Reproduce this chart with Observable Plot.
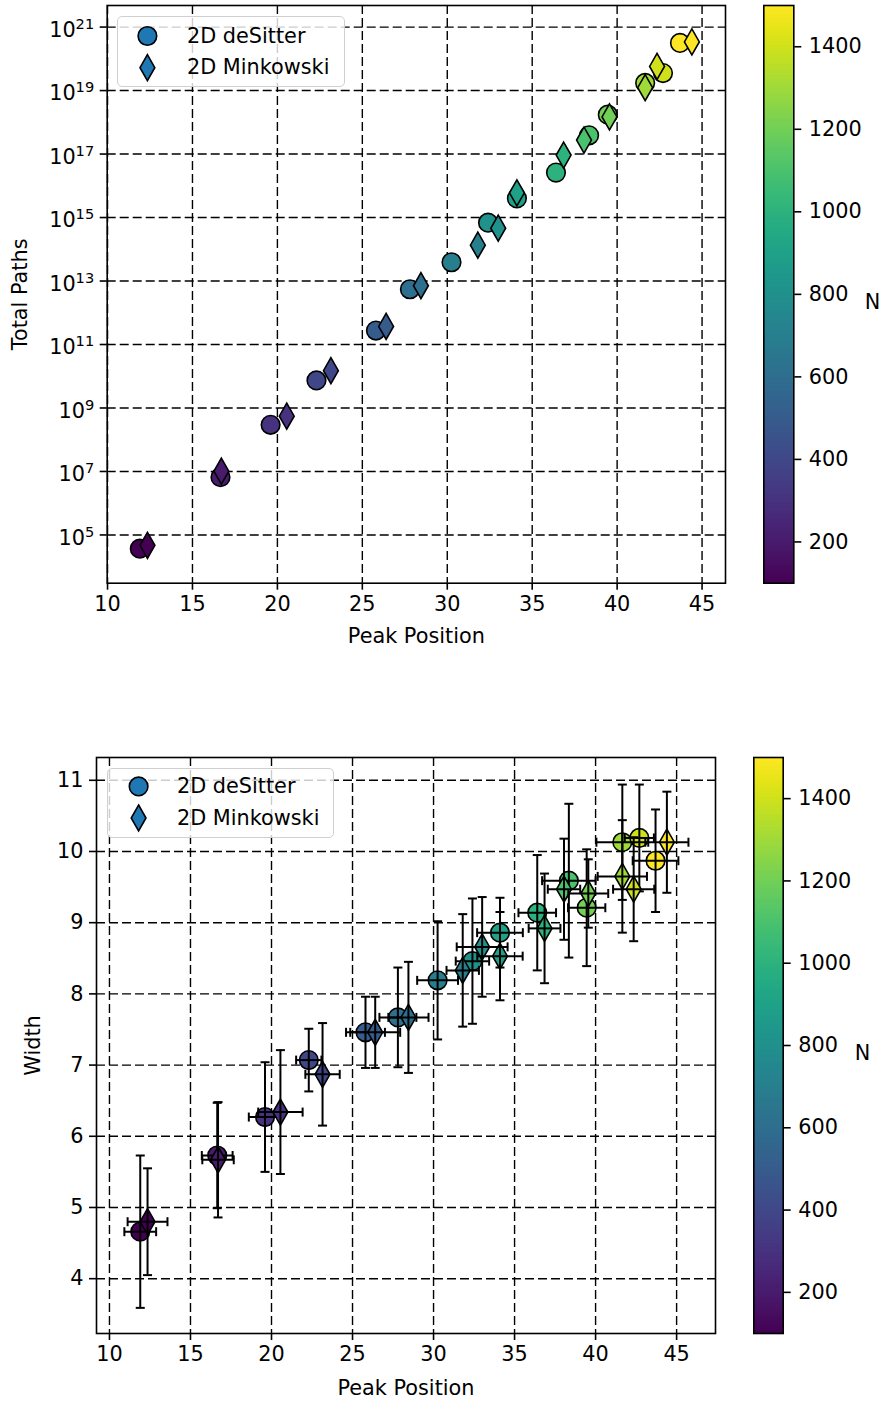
<!DOCTYPE html>
<html><head><meta charset="utf-8">
<script src="https://cdn.jsdelivr.net/npm/d3@7"></script>
<script src="https://cdn.jsdelivr.net/npm/@observablehq/plot@0.6"></script>
<style>
html,body{margin:0;padding:0;background:#fff;}
#root{position:relative;width:882px;height:1401px;font-family:"DejaVu Sans",sans-serif;overflow:hidden;background:#fff}
.legend{position:absolute;box-sizing:border-box;border:1.3px solid #d0d0d0;border-radius:5px;background:rgba(255,255,255,0.8);}
.legend .lab{position:absolute;font-size:20.8px;line-height:24px;color:#000;white-space:nowrap}
.legend svg{position:absolute;overflow:visible}
</style></head><body><div id="root"></div>
<script>
// ---------- data ----------
const N = [100,200,300,400,500,600,700,800,900,1000,1100,1200,1300,1400,1500];
const seriesNames = ["2D deSitter","2D Minkowski"];
const peakDeSitter   = [11.9,16.65,19.6,22.3,25.8,27.8,30.25,32.4,34.1,36.4,38.35,39.45,41.65,42.7,43.7];
const peakMinkowski  = [12.35,16.7,20.55,23.15,26.4,28.45,31.8,33.0,34.1,36.85,38.05,39.55,41.65,42.35,44.4];
const pathsDeSitter  = [3.7e4,6.6e6,2.95e8,7.4e9,2.75e11,5.5e12,3.9e13,6.9e14,4.0e15,2.6e16,3.9e17,1.74e18,1.74e19,3.55e19,3.16e20];
const pathsMinkowski = [4.7e4,1.02e7,5.5e8,1.5e10,3.7e11,7.1e12,1.35e14,4.6e14,6.0e15,9.3e16,2.75e17,1.48e18,1.23e19,5.75e19,3.4e20];
const widthDeSitter     = [4.66,5.73,6.27,7.07,7.46,7.67,8.19,8.46,8.86,9.14,9.59,9.21,10.13,10.19,9.87];
const widthErrDeSitter  = [1.07,0.74,0.77,0.44,0.5,0.7,0.83,0.88,0.49,0.81,1.08,0.82,0.81,0.75,0.72];
const peakErrDeSitter   = [0.98,0.95,1.0,0.78,1.2,1.14,1.26,1.03,1.41,1.16,1.65,1.15,1.6,0.9,1.41];
const widthMinkowski    = [4.80,5.67,6.34,6.87,7.46,7.67,8.33,8.66,8.53,8.92,9.47,9.41,9.65,9.47,10.13];
const widthErrMinkowski = [0.75,0.81,0.87,0.72,0.5,0.78,0.79,0.7,0.62,0.77,0.71,0.48,0.79,0.73,0.71];
const peakErrMinkowski  = [1.23,0.97,1.37,1.06,1.54,1.24,1.0,1.57,1.4,0.98,1.0,1.23,1.52,1.27,1.33];

const xTicks = [10,15,20,25,30,35,40,45];
const pathTicks = [1e5,1e7,1e9,1e11,1e13,1e15,1e17,1e19,1e21];
const pathTickExponents = ["5","7","9","11","13","15","17","19","21"];
const widthTicks = [4,5,6,7,8,9,10,11];
const nTicks = [200,400,600,800,1000,1200,1400];
const xLabel = "Peak Position", yLabelTop = "Total Paths", yLabelBottom = "Width", cLabel = "N";

// ---------- helpers ----------
const rows = (peak, paths, width, wErr, pErr) => N.map((n,i)=>({N:n, peak:peak[i], paths:paths[i], width:width[i], wErr:wErr[i], pErr:pErr[i]}));
const deSitter = rows(peakDeSitter, pathsDeSitter, widthDeSitter, widthErrDeSitter, peakErrDeSitter);
const minkowski = rows(peakMinkowski, pathsMinkowski, widthMinkowski, widthErrMinkowski, peakErrMinkowski);

const diamond = {draw(ctx, size){ const r=Math.sqrt(size/Math.PI); const h=r*1.4, w=r*0.8;
  ctx.moveTo(0,-h); ctx.lineTo(w,0); ctx.lineTo(0,h); ctx.lineTo(-w,0); ctx.closePath(); }};
const hCap = {draw(ctx){ ctx.moveTo(-4.5,0); ctx.lineTo(4.5,0); }};
const vCap = {draw(ctx){ ctx.moveTo(0,-4.5); ctx.lineTo(0,4.5); }};

const FONT = {fontFamily:"DejaVu Sans", fontSize:"20.8px", color:"black", background:"transparent", overflow:"visible"};
const colorScale = {type:"linear", scheme:"viridis", domain:[100,1500]};
const gridStyle = {stroke:"black", strokeOpacity:1, strokeWidth:1.4, strokeDasharray:"9,4"};
const dotStyle = {stroke:"black", strokeWidth:1.6, r:9.3};

const root = document.getElementById("root");
function place(el, left, top){ el.style.position="absolute"; el.style.left=left+"px"; el.style.top=top+"px"; root.appendChild(el); }

// ---------- top panel ----------
const topPlot = Plot.plot({
  width:745, height:660, marginLeft:106.7, marginRight:20, marginTop:5, marginBottom:77.3,
  style:FONT,
  x:{domain:[9.98,46.38]},
  y:{type:"log", domain:[10**3.48, 10**21.68]},
  color:colorScale,
  marks:[
    Plot.gridX({ticks:xTicks, ...gridStyle}),
    Plot.gridY({ticks:pathTicks, ...gridStyle}),
    Plot.axisX({ticks:xTicks, tickSize:7, tickPadding:6, strokeWidth:1.6, label:null, tickFormat:d=>String(d)}),
    Plot.axisY({ticks:pathTicks, tickSize:7, tickPadding:6, strokeWidth:1.6, label:null,
      tickFormat:d=>"10^" + pathTickExponents[pathTicks.indexOf(d)]}),
    Plot.dot(deSitter, {x:"peak", y:"paths", fill:"N", symbol:"circle", ...dotStyle}),
    Plot.dot(minkowski, {x:"peak", y:"paths", fill:"N", symbol:diamond, ...dotStyle}),
    Plot.frame({stroke:"black", strokeWidth:1.6}),
    Plot.text([xLabel], {text:d=>d, frameAnchor:"bottom", dy:60, fill:"black"}),
    Plot.text([yLabelTop], {text:d=>d, frameAnchor:"left", dx:-86.5, rotate:-90, textAnchor:"middle", lineAnchor:"middle", fill:"black"})
  ]
});
// render "10^e" tick labels as 10 with a superscript exponent (real text)
d3.select(topPlot).selectAll("text").each(function(){
  const t = this.textContent;
  if (/^10\^\d+$/.test(t)) {
    const e = t.split("^")[1];
    const sel = d3.select(this);
    sel.text(null);
    sel.append("tspan").text("10");
    sel.append("tspan").attr("font-size","14.6px").attr("dy","-0.55em").text(e);
    sel.attr("transform", (sel.attr("transform")||"") + " translate(0,3)");
  }
});
place(topPlot, 0, 0);

// ---------- bottom panel ----------
const errMarks = (data) => [
  Plot.ruleX(data, {x:"peak", y1:d=>d.width-d.wErr, y2:d=>d.width+d.wErr, stroke:"black", strokeWidth:2}),
  Plot.ruleY(data, {y:"width", x1:d=>d.peak-d.pErr, x2:d=>d.peak+d.pErr, stroke:"black", strokeWidth:2}),
  Plot.dot(data, {x:"peak", y:d=>d.width-d.wErr, symbol:hCap, fill:"none", stroke:"black", strokeWidth:2}),
  Plot.dot(data, {x:"peak", y:d=>d.width+d.wErr, symbol:hCap, fill:"none", stroke:"black", strokeWidth:2}),
  Plot.dot(data, {x:d=>d.peak-d.pErr, y:"width", symbol:vCap, fill:"none", stroke:"black", strokeWidth:2}),
  Plot.dot(data, {x:d=>d.peak+d.pErr, y:"width", symbol:vCap, fill:"none", stroke:"black", strokeWidth:2})
];
const botPlot = Plot.plot({
  width:735, height:700, marginLeft:96, marginRight:20, marginTop:57, marginBottom:67,
  style:FONT,
  x:{domain:[9.2,47.4]},
  y:{domain:[3.23,11.32]},
  color:colorScale,
  marks:[
    Plot.gridX({ticks:xTicks, ...gridStyle}),
    Plot.gridY({ticks:widthTicks, ...gridStyle}),
    Plot.axisX({ticks:xTicks, tickSize:7, tickPadding:6, strokeWidth:1.6, label:null, tickFormat:d=>String(d)}),
    Plot.axisY({ticks:widthTicks, tickSize:7, tickPadding:6, strokeWidth:1.6, label:null, tickFormat:d=>String(d)}),
    Plot.dot(deSitter, {x:"peak", y:"width", fill:"N", symbol:"circle", ...dotStyle}),
    ...errMarks(deSitter),
    Plot.dot(minkowski, {x:"peak", y:"width", fill:"N", symbol:diamond, ...dotStyle}),
    ...errMarks(minkowski),
    Plot.frame({stroke:"black", strokeWidth:1.6}),
    Plot.text([xLabel], {text:d=>d, frameAnchor:"bottom", dy:61, fill:"black"}),
    Plot.text([yLabelBottom], {text:d=>d, frameAnchor:"left", dx:-63, rotate:-90, textAnchor:"middle", lineAnchor:"middle", fill:"black"})
  ]
});
place(botPlot, 0, 700);

// ---------- colorbars ----------
const cbData = d3.range(100, 1500, 2);
function colorbar(w, h, mt, mb, ml, mr, nDx){
  return Plot.plot({
    width:w, height:h, marginTop:mt, marginBottom:mb, marginLeft:ml, marginRight:mr,
    style:FONT,
    x:{domain:[0,1], axis:null},
    y:{domain:[100,1500]},
    color:colorScale,
    marks:[
      Plot.rect(cbData, {x1:0, x2:1, y1:d=>d, y2:d=>Math.min(d+4,1500), fill:d=>d+1, shapeRendering:"crispEdges"}),
      Plot.frame({stroke:"black", strokeWidth:1.6}),
      Plot.axisY({ticks:nTicks, anchor:"right", tickSize:7, tickPadding:8, strokeWidth:1.6, label:null, tickFormat:d=>String(d)}),
      Plot.text([cLabel], {text:d=>d, frameAnchor:"right", dx:nDx, dy:8, textAnchor:"middle", fill:"black"})
    ]
  });
}
place(colorbar(142, 660, 5, 77.3, 23.3, 88.7, 78.7), 740, 0);
place(colorbar(152, 700, 57, 67, 23.3, 99.3, 79.3), 730, 700);

// ---------- legends ----------
function legend(left, top, w, h, mx, cy, dy, tx){
  const box = document.createElement("div");
  box.className = "legend";
  box.style.left = left+"px"; box.style.top = top+"px"; box.style.width = w+"px"; box.style.height = h+"px";
  const ns = "http://www.w3.org/2000/svg";
  const svg = document.createElementNS(ns, "svg");
  svg.setAttribute("width", w); svg.setAttribute("height", h);
  svg.style.left = "-1.3px"; svg.style.top = "-1.3px";
  const c = document.createElementNS(ns, "circle");
  c.setAttribute("cx", mx); c.setAttribute("cy", cy); c.setAttribute("r", 9.3);
  c.setAttribute("fill", "#1f77b4"); c.setAttribute("stroke", "black"); c.setAttribute("stroke-width", 1.6);
  svg.appendChild(c);
  const p = document.createElementNS(ns, "path");
  p.setAttribute("d", `M${mx},${dy-13}L${mx+7.4},${dy}L${mx},${dy+13}L${mx-7.4},${dy}Z`);
  p.setAttribute("fill", "#1f77b4"); p.setAttribute("stroke", "black"); p.setAttribute("stroke-width", 1.6);
  svg.appendChild(p);
  box.appendChild(svg);
  [[seriesNames[0], cy], [seriesNames[1], dy]].forEach(([t, y]) => {
    const d = document.createElement("div");
    d.className = "lab"; d.textContent = t;
    d.style.left = (tx-1.3)+"px"; d.style.top = (y-12-1.3)+"px";
    box.appendChild(d);
  });
  root.appendChild(box);
}
legend(117.3, 16, 227.7, 70.7, 30.4, 20, 51.7, 70);
legend(106.7, 768.3, 227.6, 70, 32.6, 18.4, 50, 70.6);
</script>
</body></html>
